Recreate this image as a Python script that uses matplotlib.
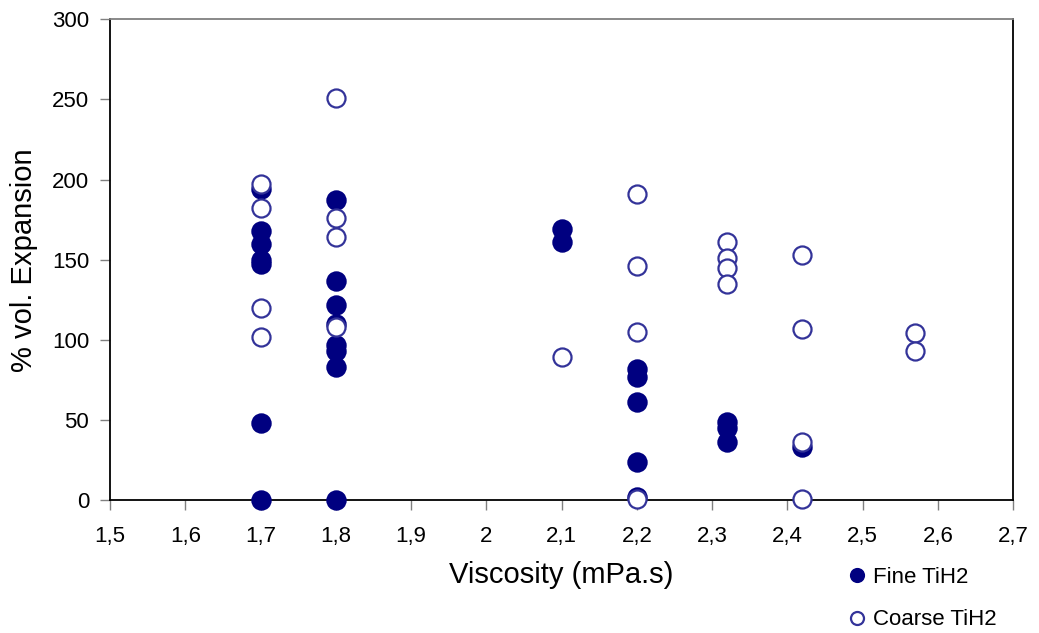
import matplotlib
matplotlib.use("Agg")
import matplotlib.pyplot as plt
from matplotlib.ticker import FuncFormatter, MultipleLocator

plt.rcParams["font.family"] = ["Liberation Sans", "DejaVu Sans"]

# viscosity (mPa.s) and % volume expansion
fine_x = [1.7, 1.7, 1.7, 1.7, 1.7, 1.7, 1.7,
          1.8, 1.8, 1.8, 1.8, 1.8, 1.8, 1.8, 1.8,
          2.1, 2.1,
          2.2, 2.2, 2.2, 2.2, 2.2,
          2.32, 2.32, 2.32,
          2.42]
fine_y = [194, 168, 160, 150, 147, 48, 0,
          187, 137, 122, 110, 97, 93, 83, 0,
          169, 161,
          82, 77, 61, 24, 2,
          49, 45, 36,
          33]

coarse_x = [1.7, 1.7, 1.7, 1.7,
            1.8, 1.8, 1.8, 1.8,
            2.1,
            2.2, 2.2, 2.2, 2.2,
            2.32, 2.32, 2.32, 2.32,
            2.42, 2.42, 2.42, 2.42,
            2.57, 2.57]
coarse_y = [197, 182, 120, 102,
            251, 176, 164, 108,
            89,
            191, 146, 105, 0.5,
            161, 151, 145, 135,
            153, 107, 36, 0.5,
            104, 93]

NAVY = "#000080"
OPEN = "#333399"

fig = plt.figure(figsize=(10.39, 6.33), dpi=100)
ax = fig.add_axes([0.1059, 0.21, 0.8693, 0.7595])

ax.plot(fine_x, fine_y, "o", ms=13.5, mfc=NAVY, mec=NAVY, mew=1.2,
        label="Fine TiH2", clip_on=False, zorder=3)
ax.plot(coarse_x, coarse_y, "o", ms=13, mfc="white", mec=OPEN, mew=1.6,
        label="Coarse TiH2", clip_on=False, zorder=4)

ax.set_xlim(1.5, 2.7)
ax.set_ylim(0, 300)
ax.xaxis.set_major_locator(MultipleLocator(0.1))
ax.yaxis.set_major_locator(MultipleLocator(50))
ax.xaxis.set_major_formatter(FuncFormatter(
    lambda v, _: (f"{v:.1f}".rstrip("0").rstrip(".")).replace(".", ",")))

ax.tick_params(axis="both", labelsize=16, length=7, width=1, color="#808080",
               direction="out")
ax.tick_params(axis="x", pad=12)
ax.tick_params(axis="y", pad=8)

ax.spines["left"].set_color("black")
ax.spines["bottom"].set_color("black")
ax.spines["right"].set_color("black")
ax.spines["top"].set_color("#808080")
for s in ax.spines.values():
    s.set_linewidth(1.3)

ax.set_xlabel("Viscosity (mPa.s)", fontsize=21, labelpad=10)
ax.set_ylabel("% vol. Expansion", fontsize=21, labelpad=10)

fig.legend(loc="center left", bbox_to_anchor=(0.808, 0.054), frameon=False,
           fontsize=16, markerscale=0.72, handlelength=0.8, handletextpad=0.3,
           labelspacing=0.95, borderaxespad=0)

fig.savefig("out.png", dpi=100)
